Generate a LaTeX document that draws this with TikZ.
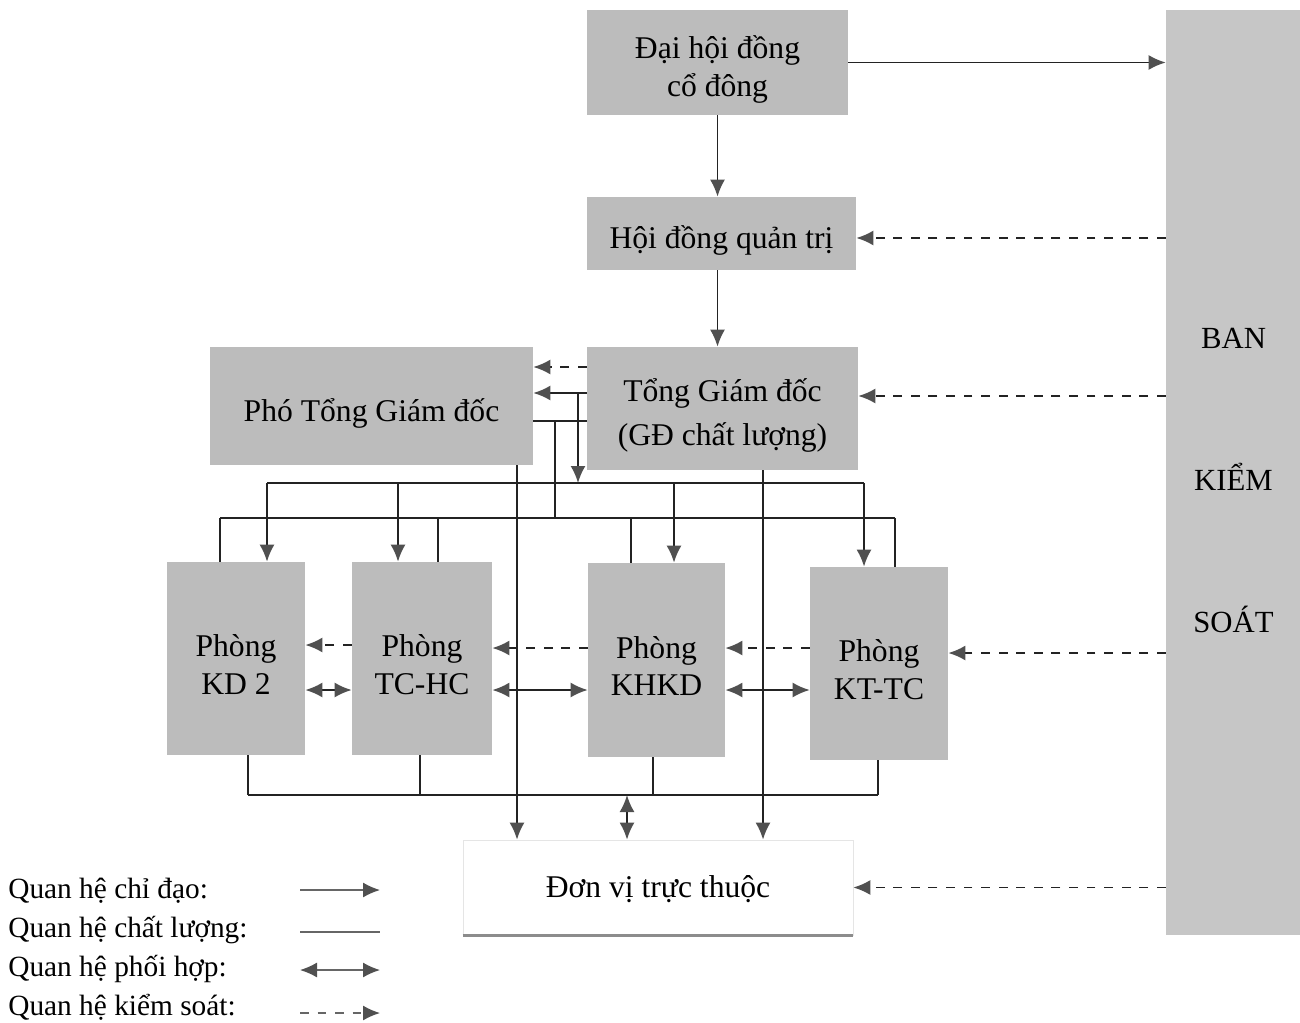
\documentclass[tikz,border=0pt]{standalone}
\usepackage{fontspec}
\setmainfont{Liberation Serif}
\usetikzlibrary{positioning,arrows.meta,calc}
\definecolor{nenxam}{RGB}{188,188,188}
\definecolor{nenbks}{RGB}{198,198,198}
\definecolor{netve}{RGB}{35,35,35}
\definecolor{mui}{RGB}{80,80,80}
\newcommand{\xuong}[2][4pt]{\raisebox{-#1}[\height][\depth]{#2}}
\tikzset{
  >={Latex[length=3.4mm,width=3mm,color=mui]},
  hop/.style={fill=nenxam,draw=none,align=center,inner sep=0pt,
    font=\fontsize{18}{21.5}\selectfont},
  phong/.style={hop,minimum width=2.76cm,minimum height=3.86cm},
  chu/.style={font=\fontsize{16.7}{20}\selectfont,inner sep=0pt},
  chidao/.style={->,line width=1.1pt,draw=netve},
  chatluong/.style={line width=1.1pt,draw=netve},
  phoihop/.style={<->,line width=1.1pt,draw=netve},
  kiemsoat/.style={->,line width=1.1pt,draw=netve,dash pattern=on 5pt off 5pt},
  mau/.style={line width=0.8pt,draw=black!60},
}
\begin{document}
\begin{tikzpicture}[x=0.02cm,y=-0.02cm]
  \useasboundingbox (0,0) rectangle (1300,1023);
  \node[hop,minimum width=5.22cm,minimum height=2.1cm] (dhd) at (717.5,62.5)
    {\xuong{Đại hội đồng}\\\xuong{cổ đông}};
  \node[hop,minimum width=5.38cm,minimum height=1.46cm] (hdqt) at (721.5,233.5)
    {\xuong{Hội đồng quản trị}};
  \node[hop,minimum width=5.42cm,minimum height=2.46cm] (tgd) at (722.5,408.5)
    {\xuong{Tổng Giám đốc}\\[4pt]\xuong{(GĐ chất lượng)}};
  \node[hop,minimum width=6.46cm,minimum height=2.36cm] (ptgd) at (371.5,406)
    {\xuong[4.5pt]{Phó Tổng Giám đốc}};
  \node[hop,fill=nenbks,minimum width=2.7cm,minimum height=18.5cm,
    font=\fontsize{17.5}{21}\selectfont] (bks) at (1233.5,472.5)
    {\xuong[4.5pt]{BAN}\\[2.1cm]\xuong[4.5pt]{KIỂM}\\[2.1cm]\xuong[4.5pt]{SOÁT}};
  \node[phong] (kd2) at (236,658.5) {\xuong[3.4pt]{Phòng}\\\xuong[3.4pt]{KD 2}};
  \node[phong,minimum width=2.8cm] (tchc) at (422,658.5)
    {\xuong[3.4pt]{Phòng}\\\xuong[3.4pt]{TC-HC}};
  \node[phong,minimum width=2.74cm,minimum height=3.88cm] (khkd) at (656.5,660)
    {\xuong[3.4pt]{Phòng}\\\xuong[3.4pt]{KHKD}};
  \node[phong] (kttc) at (879,663.5) {\xuong[3.4pt]{Phòng}\\\xuong[3.4pt]{KT-TC}};
  \node[hop,fill=white,draw=black!10,minimum width=7.8cm,minimum height=1.9cm]
    (dvtt) at (658,887.5) {\xuong[1pt]{Đơn vị trực thuộc}};
  \draw[line width=1.5pt,black!45] (dvtt.south west) -- (dvtt.south east);

  \draw[chidao] (dhd.south) -- (dhd.south |- hdqt.north);
  \draw[chidao] (dhd.south |- hdqt.south) -- (dhd.south |- tgd.north);
  \draw[chidao] (dhd.east) -- (bks.west |- dhd.east);
  \draw[kiemsoat] (bks.west |- 0,238) -- (hdqt.east |- 0,238);
  \draw[kiemsoat] (bks.west |- 0,396) -- (tgd.east |- 0,396);
  \draw[kiemsoat] (bks.west |- 0,653) -- (kttc.east |- 0,653);
  \draw[kiemsoat] (bks.west |- dvtt.east) -- (dvtt.east);

  \draw[kiemsoat] (tgd.west |- 0,367) -- (ptgd.east |- 0,367);
  \draw[chidao] (tgd.west |- 0,393) -- (ptgd.east |- 0,393);
  \draw[chatluong] (ptgd.east |- 0,421) -- (tgd.west |- 0,421);

  \coordinate (cd1) at (578,393);
  \coordinate (cd2) at (578,483);
  \draw[chidao] (cd1) -- (cd2);
  \draw[chatluong] (cd2 -| 267,0) -- (cd2 -| 864,0);
  \foreach \x/\n in {267/kd2,398/tchc,674/khkd,864/kttc}
    \draw[chidao] (cd2 -| \x,0) -- (\n.north -| \x,0);

  \coordinate (cl1) at (555,421);
  \coordinate (cl2) at (555,518);
  \draw[chatluong] (cl1) -- (cl2);
  \draw[chatluong] (cl2 -| 220,0) -- (cl2 -| 895,0);
  \foreach \x/\n in {220/kd2,438/tchc,631/khkd,895/kttc}
    \draw[chatluong] (cl2 -| \x,0) -- (\n.north -| \x,0);

  \coordinate (cb) at (627,795);
  \draw[chatluong] (cb -| 248,0) -- (cb -| 878,0);
  \foreach \x/\n in {248/kd2,420/tchc,653/khkd,878/kttc}
    \draw[chatluong] (\n.south -| \x,0) -- (cb -| \x,0);
  \draw[phoihop] (cb) -- (cb |- dvtt.north);

  \draw[chidao] (ptgd.south -| 517,0) -- (dvtt.north -| 517,0);
  \draw[chidao] (tgd.south -| 763,0) -- (dvtt.north -| 763,0);

  \draw[kiemsoat] (kttc.west |- 0,648) -- (khkd.east |- 0,648);
  \draw[kiemsoat] (khkd.west |- 0,648) -- (tchc.east |- 0,648);
  \draw[kiemsoat] (tchc.west |- 0,645) -- (kd2.east |- 0,645);
  \draw[phoihop] (kd2.east |- 0,690) -- (tchc.west |- 0,690);
  \draw[phoihop] (tchc.east |- 0,690) -- (khkd.west |- 0,690);
  \draw[phoihop] (khkd.east |- 0,690) -- (kttc.west |- 0,690);

  \node[chu,anchor=west] (lg1) at (8,891) {Quan hệ chỉ đạo:};
  \node[chu,anchor=west] (lg2) at (8,930) {Quan hệ chất lượng:};
  \node[chu,anchor=west] (lg3) at (8,969) {Quan hệ phối hợp:};
  \node[chu,anchor=west] (lg4) at (8,1007) {Quan hệ kiểm soát:};
  \foreach \i/\y/\s in {1/890/chidao,2/932/chatluong,3/970/phoihop,4/1013/kiemsoat}{
    \coordinate (ma\i) at (300,\y);
    \coordinate (mb\i) at (380,\y);
    \draw[\s,mau] (ma\i) -- (mb\i);
  }
\end{tikzpicture}
\end{document}
